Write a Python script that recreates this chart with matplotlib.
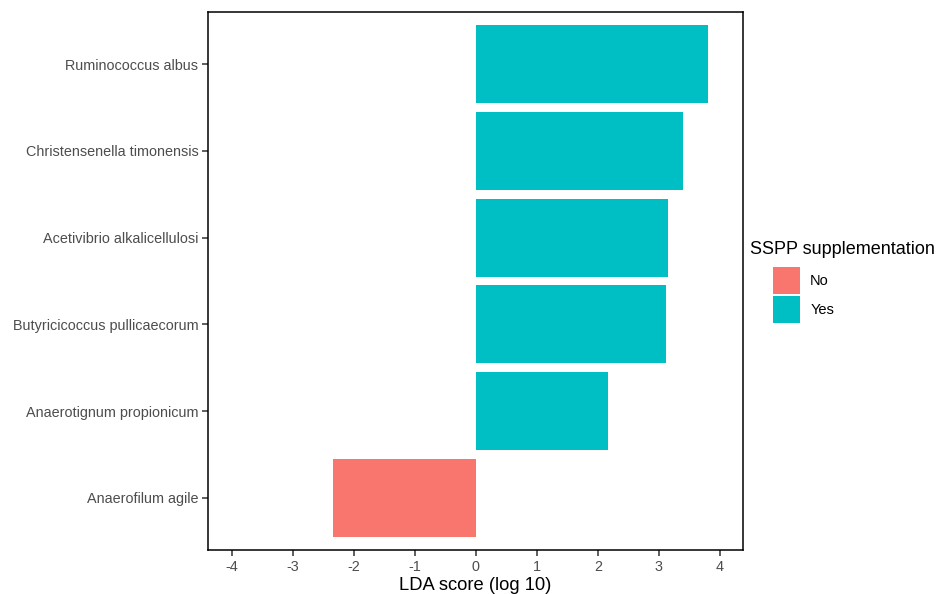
import numpy as np
import matplotlib.pyplot as plt
from matplotlib.patches import Patch

plt.rcParams['font.family'] = ['Liberation Sans', 'DejaVu Sans']
plt.rcParams['axes.unicode_minus'] = False

# DATA
taxa = ["Anaerofilum agile", "Anaerotignum propionicum", "Butyricicoccus pullicaecorum",
        "Acetivibrio alkalicellulosi", "Christensenella timonensis", "Ruminococcus albus"]
lda = [-2.34, 2.16, 3.11, 3.15, 3.39, 3.80]
group = ["No", "Yes", "Yes", "Yes", "Yes", "Yes"]
levels = ["No", "Yes"]
pal = {"No": "#F8766D", "Yes": "#00BFC4"}

fig = plt.figure(figsize=(9.39, 5.94), dpi=100)
ax = fig.add_axes([208/939, 1-550/594, (743-208)/939, (550-12)/594])

y = np.arange(len(taxa))
ax.barh(y, lda, height=0.9, color=[pal[g] for g in group], edgecolor="none")

ax.set_ylim(-0.6, len(taxa)-0.4)
ax.set_xlim(-4.39, 4.38)
ax.set_yticks(y)
ax.set_yticklabels(taxa)
ax.set_xticks(np.arange(-4, 5, 1))
ax.tick_params(axis='both', labelsize=10.4, labelcolor="#4D4D4D", color="#333333",
               length=4, width=1.1, pad=3)
for s in ax.spines.values():
    s.set_linewidth(1.1)
    s.set_color("black")
ax.set_xlabel("LDA score (log 10)", fontsize=13.2, labelpad=2)

# legend (title drawn separately so keys are indented like ggplot)
fig.text(750/939, 1-250/594, "SSPP supplementation", fontsize=13, va="center", ha="left")
handles = [Patch(facecolor=pal[l], edgecolor="none", label=l) for l in levels]
leg = fig.legend(handles=handles, loc="upper left",
                 bbox_to_anchor=(773/939, 1-267/594), frameon=False, fontsize=10.5,
                 handlelength=1.85, handleheight=2.47, handletextpad=0.7,
                 labelspacing=0.14, borderpad=0, borderaxespad=0)

fig.savefig("out.png", dpi=100)
